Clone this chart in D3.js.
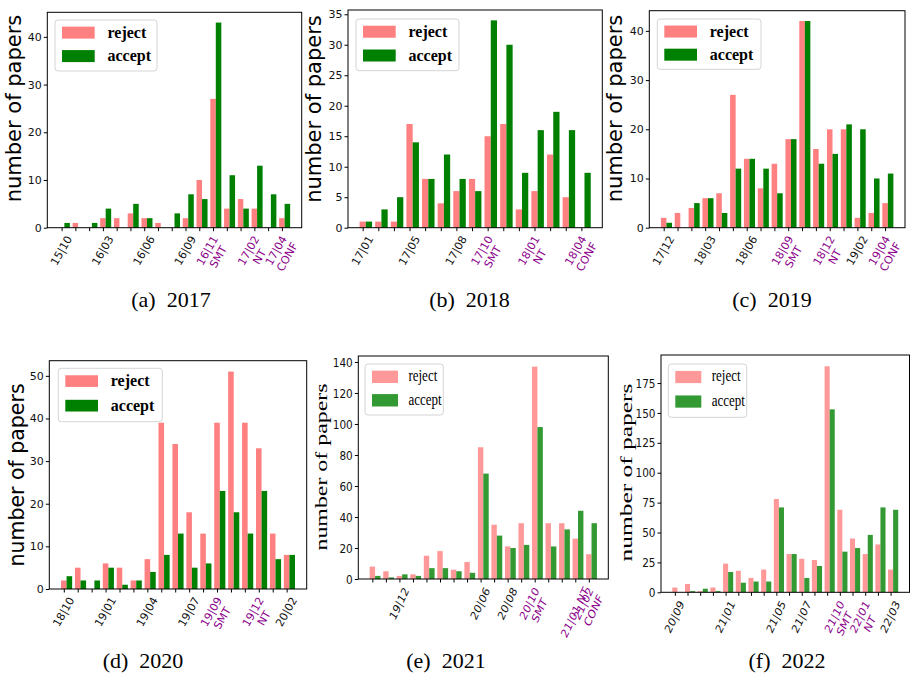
<!DOCTYPE html>
<html>
<head>
<meta charset="utf-8">
<script src="https://cdn.jsdelivr.net/npm/d3@7"></script>
<style>
  body { margin: 0; background: #fff; }
  svg { display: block; }
</style>
</head>
<body>
<svg id="fig" width="910" height="673"></svg>
<script>
// ---- data: submissions per period, rejected vs accepted ----
const reject2017 = [0, 1, 0, 2, 2, 3, 2, 1, 0, 2, 10, 27, 4, 6, 4, 0, 2];
const accept2017 = [1, 0, 1, 4, 0, 5, 2, 0, 3, 7, 6, 43, 11, 4, 13, 7, 5];
const labels2017 = ["15|10", "", "", "16|03", "", "", "16|06", "", "", "16|09", "", "16|11\nSMT", "", "", "17|02\nNT", "", "17|04\nCONF"];
const yticks2017 = [0, 10, 20, 30, 40];

const reject2018 = [1, 1, 1, 17, 8, 4, 6, 8, 15, 17, 3, 6, 12, 5, 0];
const accept2018 = [1, 3, 5, 14, 8, 12, 8, 6, 34, 30, 9, 16, 19, 16, 9];
const labels2018 = ["17|01", "", "", "17|05", "", "", "17|08", "", "17|10\nSMT", "", "", "18|01\nNT", "", "", "18|04\nCONF"];
const yticks2018 = [0, 5, 10, 15, 20, 25, 30, 35];

const reject2019 = [2, 3, 4, 6, 7, 27, 14, 8, 13, 18, 42, 16, 20, 20, 2, 3, 5];
const accept2019 = [1, 0, 5, 6, 3, 12, 14, 12, 7, 18, 42, 13, 15, 21, 20, 10, 11];
const labels2019 = ["17|12", "", "", "18|03", "", "", "18|06", "", "", "18|09\nSMT", "", "", "18|12\nNT", "", "19|02", "", "19|04\nCONF"];
const yticks2019 = [0, 10, 20, 30, 40];

const reject2020 = [2, 5, 0, 6, 5, 2, 7, 39, 34, 18, 13, 39, 51, 39, 33, 13, 8];
const accept2020 = [3, 2, 2, 5, 1, 2, 4, 8, 13, 5, 6, 23, 18, 13, 23, 7, 8];
const labels2020 = ["18|10", "", "", "19|01", "", "", "19|04", "", "", "19|07", "", "19|09\nSMT", "", "", "19|12\nNT", "", "20|02"];
const yticks2020 = [0, 10, 20, 30, 40, 50];

const reject2021 = [8, 5, 2, 3, 15, 18, 6, 11, 85, 35, 21, 36, 137, 36, 36, 26, 16];
const accept2021 = [2, 1, 3, 2, 7, 7, 5, 4, 68, 28, 20, 22, 98, 21, 32, 44, 36];
const labels2021 = ["", "", "19|12", "", "", "", "", "", "20|06", "", "20|08", "", "20|10\nSMT", "", "", "21|01 NT", "21|02\nCONF"];
const yticks2021 = [0, 20, 40, 60, 80, 100, 120, 140];

const reject2022 = [4, 7, 1, 4, 24, 18, 12, 19, 78, 32, 28, 27, 189, 69, 45, 32, 40, 19];
const accept2022 = [0, 1, 3, 1, 17, 8, 9, 9, 71, 32, 12, 22, 153, 34, 37, 48, 71, 69];
const labels2022 = ["20|09", "", "", "", "21|01", "", "", "", "21|05", "", "21|07", "", "", "21|10\nSMT", "", "22|01\nNT", "", "22|03"];
const yticks2022 = [0, 25, 50, 75, 100, 125, 150, 175];

const seriesNames = ["reject", "accept"];

// ---- styling / layout ----
const SANS = "DejaVu Sans, sans-serif";
const SERIF = "Liberation Serif, Times New Roman, serif";
const BAR_W = 0.4;            // bar width in group units
const svg = d3.select("#fig");

function stretchedText(parent, x, y, s) {
  return parent.append("text").attr("transform", `translate(${x},${y}) scale(1,${s})`);
}

function drawPanel(p) {
  const n = p.reject.length;
  const lo = -BAR_W / 2, hi = (n - 1) + 1.5 * BAR_W, m = 0.05 * (hi - lo);
  const x = d3.scaleLinear().domain([lo - m, hi + m]).range([p.box.l, p.box.r]);
  const ymax = 1.05 * d3.max(p.reject.concat(p.accept));
  const y = d3.scaleLinear().domain([0, ymax]).range([p.box.b, p.box.t]);
  const bw = x(BAR_W) - x(0);
  const g = svg.append("g");

  g.append("g").selectAll("rect").data(p.reject).join("rect")
    .attr("x", (d, i) => x(i - BAR_W / 2)).attr("y", d => y(d))
    .attr("width", bw).attr("height", d => y(0) - y(d)).attr("fill", p.pink);
  g.append("g").selectAll("rect").data(p.accept).join("rect")
    .attr("x", (d, i) => x(i + BAR_W / 2)).attr("y", d => y(d))
    .attr("width", bw).attr("height", d => y(0) - y(d)).attr("fill", p.green);

  // y axis ticks + labels
  const ya = g.append("g").attr("transform", `translate(${p.box.l},0)`)
    .call(d3.axisLeft(y).tickValues(p.yticks).tickSize(3.5).tickSizeOuter(0).tickFormat(""));
  ya.select(".domain").remove();
  ya.selectAll(".tick line").attr("stroke", "#000");
  p.yticks.forEach(v => {
    stretchedText(g, p.box.l - 5.5, y(v), p.s)
      .attr("text-anchor", "end").attr("dy", "0.36em")
      .attr("font-family", SANS).attr("font-size", p.tickFs).attr("fill", "#111")
      .text(v);
  });

  // x axis ticks + rotated labels
  const xa = g.append("g").attr("transform", `translate(0,${p.box.b})`)
    .call(d3.axisBottom(x).tickValues(d3.range(n)).tickSize(3.5).tickSizeOuter(0).tickFormat(""));
  xa.select(".domain").remove();
  xa.selectAll(".tick line").attr("stroke", "#000");
  p.labels.forEach((lab, i) => {
    if (!lab) return;
    const special = /SMT|NT|CONF/.test(lab);
    const lg = g.append("g").attr("transform", `translate(${x(i)},${p.box.b + 6})`);
    const t = lg.append("text").attr("font-family", SANS).attr("font-size", p.xFs)
      .attr("fill", special ? "#8b008b" : "#111");
    lab.split("\n").forEach((ln, k) => {
      t.append("tspan").attr("x", 0).attr("dy", k ? "1.15em" : 0)
        .attr("text-anchor", "middle").text(ln);
    });
    const rot = `scale(1,${p.s}) rotate(-60)`;
    t.attr("transform", rot);
    const bb = lg.node().getBBox();
    t.attr("transform", `translate(${-(bb.x + bb.width / 2)},${-bb.y}) ${rot}`);
  });

  // frame
  g.append("rect").attr("x", p.box.l).attr("y", p.box.t)
    .attr("width", p.box.r - p.box.l).attr("height", p.box.b - p.box.t)
    .attr("fill", "none").attr("stroke", "#000").attr("stroke-width", 1);

  // legend
  const L = p.legend;
  g.append("rect").attr("x", L.x).attr("y", L.y).attr("width", L.w).attr("height", L.h)
    .attr("rx", 3).attr("fill", "#fff").attr("fill-opacity", 0.85)
    .attr("stroke", "#d4d4d4").attr("stroke-width", 1);
  const colors = [p.pink, p.green];
  const rowY = [L.y + 0.13 * L.h, L.y + 0.59 * L.h];
  seriesNames.forEach((name, k) => {
    g.append("rect").attr("x", L.x + 7).attr("y", rowY[k])
      .attr("width", L.pw).attr("height", L.ph).attr("fill", colors[k]);
    stretchedText(g, L.x + 7 + L.pw + 0.8 * L.fs, rowY[k] + L.ph / 2 + L.fs * 0.33, p.s)
      .attr("font-family", SERIF).attr("font-size", L.fs)
      .attr("font-weight", L.bold ? "bold" : "normal").attr("fill", "#000")
      .text(name);
  });

  // y label
  const yl = g.append("text")
    .attr("transform", `translate(${p.ylab.x},${p.ylab.y}) rotate(-90)`)
    .attr("text-anchor", "middle").attr("font-family", p.ylab.serif ? SERIF : SANS)
    .attr("font-size", p.ylab.fs).attr("fill", "#000").text("number of papers");
  if (p.ylab.len) yl.attr("textLength", p.ylab.len).attr("lengthAdjust", "spacingAndGlyphs");

  // caption
  g.append("text").attr("x", p.cap.x).attr("y", p.cap.y).attr("text-anchor", "middle")
    .attr("font-family", SERIF).attr("font-size", 22).attr("fill", "#000")
    .style("white-space", "pre").text(p.cap.text);
}

const PINK_A = "#ff8080", GREEN_A = "#008000";
const PINK_B = "#ff9999", GREEN_B = "#339933";

const panels = [
  { reject: reject2017, accept: accept2017, labels: labels2017, yticks: yticks2017,
    box: { l: 47.3, r: 301.7, t: 12.3, b: 227.7 }, pink: PINK_A, green: GREEN_A, s: 1, tickFs: 11, xFs: 11,
    legend: { x: 55, y: 20, w: 102, h: 51, pw: 32.7, ph: 12, fs: 16, bold: true },
    ylab: { x: 21, y: 108.5, fs: 21 }, cap: { x: 171, y: 307, text: "(a)  2017" } },
  { reject: reject2018, accept: accept2018, labels: labels2018, yticks: yticks2018,
    box: { l: 348, r: 602.3, t: 10, b: 227.7 }, pink: PINK_A, green: GREEN_A, s: 1, tickFs: 11, xFs: 11,
    legend: { x: 356, y: 19, w: 103, h: 51.7, pw: 32.7, ph: 12, fs: 16, bold: true },
    ylab: { x: 321, y: 109, fs: 21 }, cap: { x: 469.5, y: 307, text: "(b)  2018" } },
  { reject: reject2019, accept: accept2019, labels: labels2019, yticks: yticks2019,
    box: { l: 649.3, r: 905, t: 10.7, b: 227.7 }, pink: PINK_A, green: GREEN_A, s: 1, tickFs: 11, xFs: 11,
    legend: { x: 657.3, y: 19, w: 103.7, h: 50.3, pw: 32.7, ph: 12, fs: 16, bold: true },
    ylab: { x: 622, y: 108.5, fs: 21 }, cap: { x: 772, y: 307, text: "(c)  2019" } },
  { reject: reject2020, accept: accept2020, labels: labels2020, yticks: yticks2020,
    box: { l: 49.3, r: 306.7, t: 360.7, b: 589 }, pink: PINK_A, green: GREEN_A, s: 1, tickFs: 11, xFs: 11,
    legend: { x: 58.3, y: 368.3, w: 104, h: 53.4, pw: 32.7, ph: 11.7, fs: 16, bold: true },
    ylab: { x: 23.5, y: 475, fs: 20.5 }, cap: { x: 143, y: 668, text: "(d)  2020" } },
  { reject: reject2021, accept: accept2021, labels: labels2021, yticks: yticks2021,
    box: { l: 358.3, r: 608.3, t: 356, b: 579 }, pink: PINK_B, green: GREEN_B, s: 1.22, tickFs: 10.5, xFs: 10,
    legend: { x: 365, y: 364, w: 78.3, h: 51, pw: 26, ph: 12.4, fs: 13, bold: false },
    ylab: { x: 327, y: 467, fs: 17, serif: true, len: 167 }, cap: { x: 446, y: 668, text: "(e)  2021" } },
  { reject: reject2022, accept: accept2022, labels: labels2022, yticks: yticks2022,
    box: { l: 661, r: 909.5, t: 355, b: 592.3 }, pink: PINK_B, green: GREEN_B, s: 1.22, tickFs: 10.5, xFs: 10,
    legend: { x: 668.3, y: 364, w: 78.4, h: 53.3, pw: 26, ph: 12.2, fs: 13, bold: false },
    ylab: { x: 632, y: 472.5, fs: 17, serif: true, len: 178 }, cap: { x: 787, y: 668, text: "(f)  2022" } }
];

panels.forEach(drawPanel);
</script>
</body>
</html>
